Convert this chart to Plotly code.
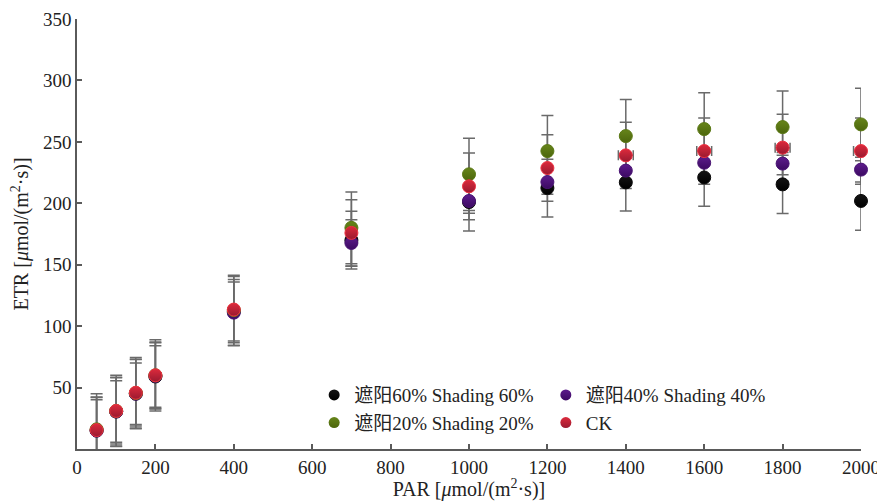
import plotly.graph_objects as go

par = [50, 100, 150, 200, 400, 700, 1000, 1200, 1400, 1600, 1800, 2000]

s60 = [15.0, 30.5, 45.0, 59.0, 112.0, 170.0, 201.0, 212.4, 217.0, 221.0, 215.4, 201.9]
s60_err = [25, 25, 25, 25, 24, 23.5, 23.5, 23.5, 23.3, 23.4, 23.8, 23.9]

s40 = [15.0, 30.5, 45.0, 59.5, 111.0, 167.7, 201.9, 217.3, 226.6, 233.0, 232.3, 227.4]
s40_err = [27, 28, 28, 27, 27, 19, 10, 10, 10, 10, 9, 10]

s20 = [16.0, 31.0, 45.5, 60.0, 113.0, 180.0, 223.6, 242.5, 254.7, 260.4, 262.0, 264.2]
s20_err = [29, 29, 29, 29, 28.5, 29.2, 29.4, 29.0, 29.8, 29.6, 29.3, 29.5]

ck = [15.4, 31.0, 45.8, 60.0, 113.5, 175.9, 213.8, 228.7, 239.0, 242.5, 245.3, 242.5]
ck_err = [27, 27, 27, 27, 27, 27, 27.2, 27.0, 27.0, 27.0, 27.1, 27.0]
ck_errx = [0, 0, 0, 0, 0, 0, 0, 0, 19, 19, 19, 19]

names = ["遮阳60% Shading 60%", "遮阳40% Shading 40%", "遮阳20% Shading 20%", "CK"]
series = [s60, s40, s20, ck]
errs = [s60_err, s40_err, s20_err, ck_err]
colors = ["#141414", "#5d1c8c", "#66841a", "#dc2a3c"]
grads = ["#000000", "#3c0a62", "#4c660c", "#9a1a30"]
lines = ["#0a0a0a", "#4a1474", "#5a7814", "#ee3040"]
legends = ["legend", "legend2", "legend", "legend2"]

FONT = "Liberation Serif, Times New Roman, Noto Sans CJK SC, serif"
EBC = "#6a6a6a"

fig = go.Figure()

# error bars first (behind all markers)
for i in range(4):
    kw = {}
    if i == 3:
        kw["error_x"] = dict(type="data", array=ck_errx, visible=True, color=EBC,
                             thickness=1.5, width=5, copy_ystyle=False)
    fig.add_trace(go.Scatter(
        x=par, y=series[i], mode="markers",
        marker=dict(size=2, color="rgba(0,0,0,0)"),
        error_y=dict(type="data", array=errs[i], visible=True, color=EBC,
                     thickness=1.5, width=6),
        showlegend=False, hoverinfo="skip", cliponaxis=True, **kw))

# markers
for i in range(4):
    fig.add_trace(go.Scatter(
        x=par, y=series[i], mode="markers", name=names[i],
        marker=dict(size=13, color=colors[i],
                    gradient=dict(type="vertical", color=grads[i]),
                    line=dict(width=1, color=lines[i])),
        showlegend=False, cliponaxis=False))

# legend entries
for i in range(4):
    fig.add_trace(go.Scatter(
        x=[None], y=[None], mode="markers", name=names[i],
        marker=dict(size=11, color=colors[i],
                    gradient=dict(type="vertical", color=grads[i])),
        showlegend=True, legend=legends[i]))

axis_common = dict(
    showline=True, linecolor="#5a5a5a", linewidth=1.5,
    ticks="inside", ticklen=5, tickwidth=1.5, tickcolor="#5a5a5a",
    showgrid=False, zeroline=False, mirror=False, automargin=False,
    tickfont=dict(family=FONT, size=19, color="#222"),
)

fig.update_layout(
    width=877, height=493,
    margin=dict(l=68.5, r=23.5, t=10.5, b=52),
    paper_bgcolor="white", plot_bgcolor="white",
    font=dict(family=FONT, size=19, color="#222"),
    xaxis=dict(range=[0, 2000], tickvals=[0, 200, 400, 600, 800, 1000, 1200, 1400, 1600, 1800, 2000],
               title=dict(text="PAR [<i>μ</i>mol/(m<sup>2</sup>·s)]", standoff=10,
                          font=dict(family=FONT, size=20, color="#222")),
               **axis_common),
    yaxis=dict(range=[0, 350], tickvals=[50, 100, 150, 200, 250, 300, 350],
               title=dict(text="ETR [<i>μ</i>mol/(m<sup>2</sup>·s)]", standoff=12,
                          font=dict(family=FONT, size=20, color="#222")),
               **axis_common),
    legend=dict(x=0.3025, y=0.0929, xanchor="left", yanchor="middle",
                orientation="v", bgcolor="rgba(0,0,0,0)", tracegroupgap=0,
                font=dict(family=FONT, size=19, color="#222"), itemwidth=30),
    legend2=dict(x=0.598, y=0.0929, xanchor="left", yanchor="middle",
                 orientation="v", bgcolor="rgba(0,0,0,0)", tracegroupgap=0,
                 font=dict(family=FONT, size=19, color="#222"), itemwidth=30),
)

fig.write_html("out.html")
